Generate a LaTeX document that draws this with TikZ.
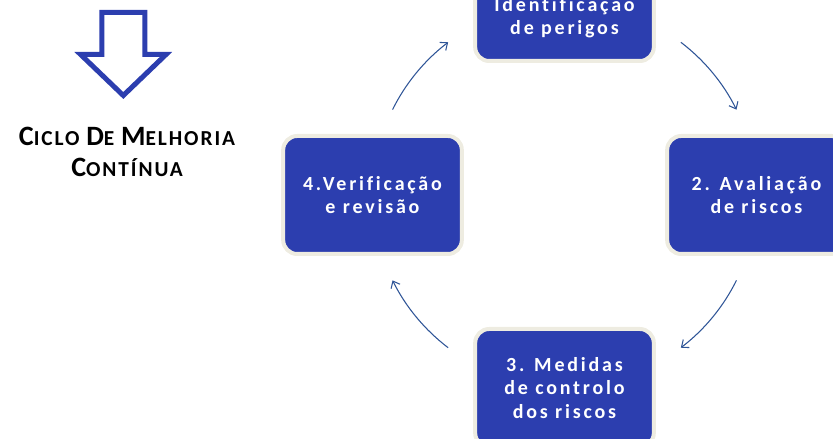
\documentclass[tikz,border=0pt]{standalone}
\usepackage{fontspec}
\setmainfont{Carlito}
\newfontfamily\stagefont[LetterSpace=14, Ligatures=NoCommon]{Carlito}
\newfontfamily\titlefont[LetterSpace=9]{Carlito}
\usetikzlibrary{arrows.meta}
\definecolor{stageblue}{RGB}{44,62,175}
\definecolor{stageedge}{RGB}{238,236,225}
\definecolor{cycleblue}{RGB}{47,85,151}
\newcommand{\bigsc}[2]{{\fontsize{21}{23.25}\selectfont #1}{\fontsize{16}{23.25}\selectfont #2}}

\begin{document}
\begin{tikzpicture}[x=0.75pt, y=0.75pt,
                    stage/.style={rectangle, rounded corners=10.5pt, draw=stageedge, line width=3pt, fill=stageblue,
                        text=white, minimum width=134pt, minimum height=88.5pt, inner sep=0pt, align=center,
                        font=\stagefont\bfseries\fontsize{15}{17.5}\selectfont},
                    cyc/.style={cycleblue, line width=0.8pt, -{Straight Barb[length=4.5pt, width=7.5pt]}}]
                    \useasboundingbox (0,0) rectangle (833,439);
                    \coordinate (c) at (564.5,244);

                    \node[stage] (1) at ([shift=(90:193)] c) {\rule{0pt}{17pt}\\Identificação\\de perigos};
                    \node[stage] (2) at ([shift=(0:192)] c) {2. Avaliação\\de riscos};
                    \node[stage] (3) at ([shift=(270:193)] c) {3. Medidas\\de controlo\\dos riscos};
                    \node[stage] (4) at ([shift=(180:192)] c) {4.Verificação\\e revisão};

                    \draw[cyc] ([shift=(153.6:192)] c) arc[start angle=153.6, end angle=127.3, radius=192];
                    \draw[cyc] ([shift=(52.7:192)] c) arc[start angle=52.7, end angle=26.4, radius=192];
                    \draw[cyc] ([shift=(-26.4:192)] c) arc[start angle=-26.4, end angle=-52.7, radius=192];
                    \draw[cyc] ([shift=(-127.3:192)] c) arc[start angle=-127.3, end angle=-153.6, radius=192];

                    \draw[stageblue, line width=3.75pt, miter limit=10, fill=white]
                        (101.8,426.5) -- (144.8,426.5) -- (144.8,384.5) -- (166,384.5) -- (123.3,343.5)
                        -- (80.6,384.5) -- (101.8,384.5) -- cycle;

                    \node[align=center, font=\titlefont\bfseries\fontsize{16}{23.25}\selectfont] (t) at (127,287)
                        {\bigsc{C}{ICLO} \bigsc{D}{E} \bigsc{M}{ELHORIA}\\\bigsc{C}{ONTÍNUA}};
                \end{tikzpicture}
\end{document}
